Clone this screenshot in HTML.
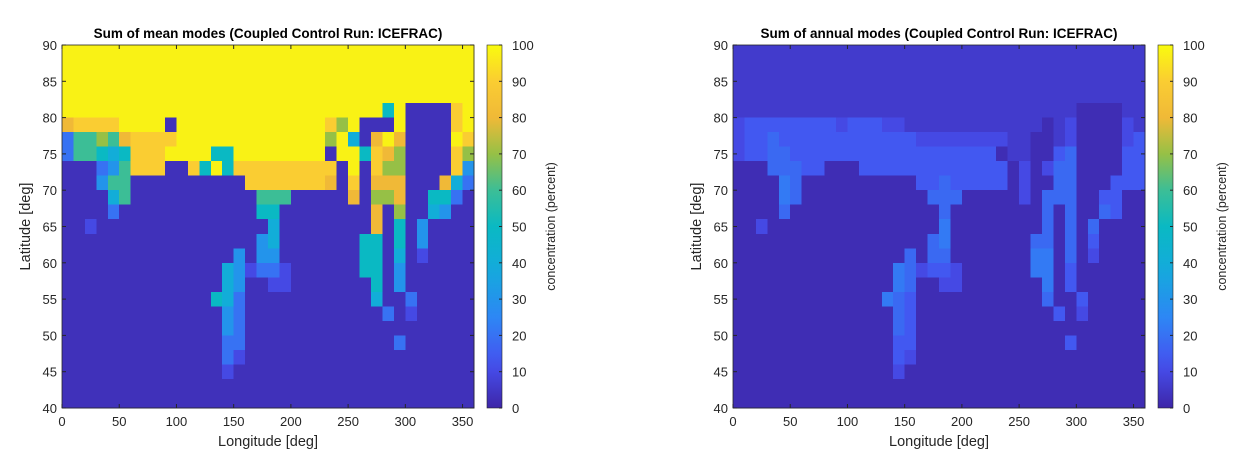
<!DOCTYPE html>
<html><head><meta charset="utf-8"><style>
body{margin:0;background:#fff;}
svg{display:block;font-family:"Liberation Sans",Arial,sans-serif;}
</style></head><body>
<svg id="fig" width="1236" height="463" viewBox="0 0 1236 463"></svg>
<script>
const xTicks=[0,50,100,150,200,250,300,350];
const yTicks=[40,45,50,55,60,65,70,75,80,85,90];
const cTicks=[0,10,20,30,40,50,60,70,80,90,100];
const leftCodes={'.':3,'a':10,'b':20,'c':30,'d':40,'e':50,'f':60,'g':70,'h':80,'i':90,'Y':98};
const rightCodes={'.':2,',':6,'a':10,'b':14,'c':18,'d':22};
const leftRows=[
"YYYYYYYYYY"+"YYYYYYYYYYYYY"+"YYYYYYYYYYYYY",
"YYYYYYYYYY"+"YYYYYYYYYYYYY"+"YYYYYYYYYYYYY",
"YYYYYYYYYY"+"YYYYYYYYYYYYY"+"YYYYYYYYYYYYY",
"YYYYYYYYYY"+"YYYYYYYYYYYYY"+"YYYYYYYYYYYYY",
"YYYYYYYYYY"+"YYYYYYYYYYYYY"+"YYYYYeY....iY",
"hiiiiYYYY."+"YYYYYYYYYYYYY"+"igY...Y....iY",
"bffgfhiiii"+"YYYYYYYYYYYYY"+"gYd.hYh....Yi",
"bffedeiiiY"+"YYYeeYYYYYYYY"+".YYeihg....ig",
"...bcfiii."+".ieYeiiiiiiii"+"i.Y.igg....ic",
"...cff...."+"......iiiiiii"+"h.i.hhh...hdb",
"....df...."+".......fff..."+"..h.ggh..eeb.",
"....b....."+".......ee...."+"....h.g..dc..",
"..a......."+"........d...."+"....h.e.c....",
".........."+".......cd...."+"...ee.e.c....",
".........."+".....c.cc...."+"...ee.d.a....",
".........."+"....dcabba..."+"...ee.c......",
".........."+"....dc..aa..."+"....e.c......",
".........."+"...edb......."+"....d..b.....",
".........."+"....cb......."+".....b.a.....",
".........."+"....cb......."+".............",
".........."+"....bb......."+"......b......",
".........."+"....ba......."+".............",
".........."+"....a........"+".............",
".........."+"............."+".............",
".........."+"............."+"............."
];
const rightRows=[
",,,,,,,,,,"+",,,,,,,,,,,,,"+",,,,,,,,,,,,,",
",,,,,,,,,,"+",,,,,,,,,,,,,"+",,,,,,,,,,,,,",
",,,,,,,,,,"+",,,,,,,,,,,,,"+",,,,,,,,,,,,,",
",,,,,,,,,,"+",,,,,,,,,,,,,"+",,,,,,,,,,,,,",
",,,,,,,,,,"+",,,,,,,,,,,,,"+",,,,,,,....,,",
"abbbbbbbba"+"bbbaa,,,,,,,,"+",,,,.,a....a,",
"abbcbbbbbb"+"bbbbbbaaaaaaa"+"a,,..,a....ab",
"abbccbbbbb"+"bbbbbbbbbbbbb"+".,,..bc....bb",
"...cccbb.."+".bbbbbbbbbbbb"+"b.a.acc....bb",
"....dc...."+"......bbcbbbb"+"b.a..cc...bbb",
"....dc...."+".......ccc..."+"..a.ccc..bb..",
"....c....."+"........c...."+"....c.c..cb..",
"..a......."+"........d...."+"....c.c.c....",
".........."+".......cd...."+"...cc.c.b....",
".........."+".....c.cc...."+"...dd.c.a....",
".........."+"....dcabba..."+"...dd.b......",
".........."+"....dc..aa..."+"....d.b......",
".........."+"...dcb......."+"....c..b.....",
".........."+"....cb......."+".....b.a.....",
".........."+"....cb......."+".............",
".........."+"....bb......."+"......b......",
".........."+"....ba......."+".............",
".........."+"....a........"+".............",
".........."+"............."+".............",
".........."+"............."+"............."
];
const stops=[[0,62,38,168],[0.12,70,80,240],[0.25,45,135,245],[0.38,20,170,220],[0.5,10,185,195],[0.6,60,190,150],[0.7,150,192,70],[0.8,240,185,55],[0.9,250,205,50],[1,249,251,14]];
function parula(v){const t=Math.max(0,Math.min(1,v/100));for(let i=1;i<stops.length;i++){if(t<=stops[i][0]){const a=stops[i-1],b=stops[i];const f=(t-a[0])/(b[0]-a[0]);return `rgb(${Math.round(a[1]+f*(b[1]-a[1]))},${Math.round(a[2]+f*(b[2]-a[2]))},${Math.round(a[3]+f*(b[3]-a[3]))})`;}}return 'rgb(249,251,14)';}
const NS='http://www.w3.org/2000/svg';
const svg=document.getElementById('fig');
function mk(tag,attrs,parent){const e=document.createElementNS(NS,tag);for(const k in attrs)e.setAttribute(k,attrs[k]);(parent||svg).appendChild(e);return e;}
const X0s=[62,733],W=412,Y0=45,Y1=408;
const defs=mk('defs',{});
const lg=mk('linearGradient',{id:'cg',x1:0,y1:1,x2:0,y2:0},defs);
for(let i=0;i<=20;i++){mk('stop',{offset:i/20,'stop-color':parula(i*5)},lg);}
const titles=["Sum of mean modes (Coupled Control Run: ICEFRAC)","Sum of annual modes (Coupled Control Run: ICEFRAC)"];
[0,1].forEach(p=>{
 const X0=X0s[p];const rows=p?rightRows:leftRows;const codes=p?rightCodes:leftCodes;
 const xs=lon=>X0+lon/360*W;const ys=lat=>Y1-(lat-40)/50*(Y1-Y0);
 const g=mk('g',{});
 
 
 const hm=mk('g',{'shape-rendering':'crispEdges'},g);
 
 
 rows.forEach((r,ri)=>{const latTop=90-ri*2;for(let ci=0;ci<36;ci++){const ch=r[ci]||'.';const v=codes[ch]!==undefined?codes[ch]:codes['.'];const lon=ci*10;
  const c=mk('rect',{x:xs(lon),y:ys(latTop),width:xs(lon+10)-xs(lon)+0.5,height:ys(latTop-2)-ys(latTop)+0.5,fill:parula(v)},hm);
  
  }});
 mk('rect',{x:X0,y:Y0,width:W,height:Y1-Y0,fill:'none',stroke:'#262626','stroke-width':0.8},g);
 xTicks.forEach(t=>{const x=xs(t);mk('line',{x1:x,x2:x,y1:Y1,y2:Y1-4,stroke:'#262626'},g);mk('line',{x1:x,x2:x,y1:Y0,y2:Y0+4,stroke:'#262626'},g);
  const tx=mk('text',{x:x,y:Y1+18,'font-size':13,'text-anchor':'middle',fill:'#262626'},g);tx.textContent=t;
  
  });
 yTicks.forEach(t=>{const y=ys(t);mk('line',{x1:X0,x2:X0+4,y1:y,y2:y,stroke:'#262626'},g);mk('line',{x1:X0+W,x2:X0+W-4,y1:y,y2:y,stroke:'#262626'},g);
  const tx=mk('text',{x:X0-5,y:y+5,'font-size':13,'text-anchor':'end',fill:'#262626'},g);tx.textContent=t;
  
  });
 const tt=mk('text',{x:X0+W/2,y:38,'font-size':13.5,'font-weight':'bold','text-anchor':'middle',fill:'#000'},g);tt.textContent=titles[p];
 
 
 const xl=mk('text',{x:X0+W/2,y:446,'font-size':14.5,'text-anchor':'middle',fill:'#262626'},g);xl.textContent='Longitude [deg]';
 
 
 const yl=mk('text',{x:0,y:0,'font-size':14.5,'text-anchor':'middle',fill:'#262626',transform:`translate(${X0-32},${(Y0+Y1)/2}) rotate(-90)`},g);yl.textContent='Latitude [deg]';
 
 
 const cx=X0+W+13,cw=15;
 const cb=mk('rect',{x:cx,y:Y0,width:cw,height:Y1-Y0,fill:'url(#cg)',stroke:'#262626','stroke-width':0.6},g);
 
 
 cTicks.forEach(t=>{const y=Y1-t/100*(Y1-Y0);mk('line',{x1:cx+cw-3,x2:cx+cw,y1:y,y2:y,stroke:'#262626'},g);
  const tx=mk('text',{x:cx+cw+10,y:y+5,'font-size':13,fill:'#262626'},g);tx.textContent=t;
  
  });
 const cl=mk('text',{x:0,y:0,'font-size':12.5,'text-anchor':'middle',fill:'#262626',transform:`translate(${cx+cw+53},${(Y0+Y1)/2}) rotate(-90)`},g);cl.textContent='concentration (percent)';
 
 
});
</script>
</body></html>
